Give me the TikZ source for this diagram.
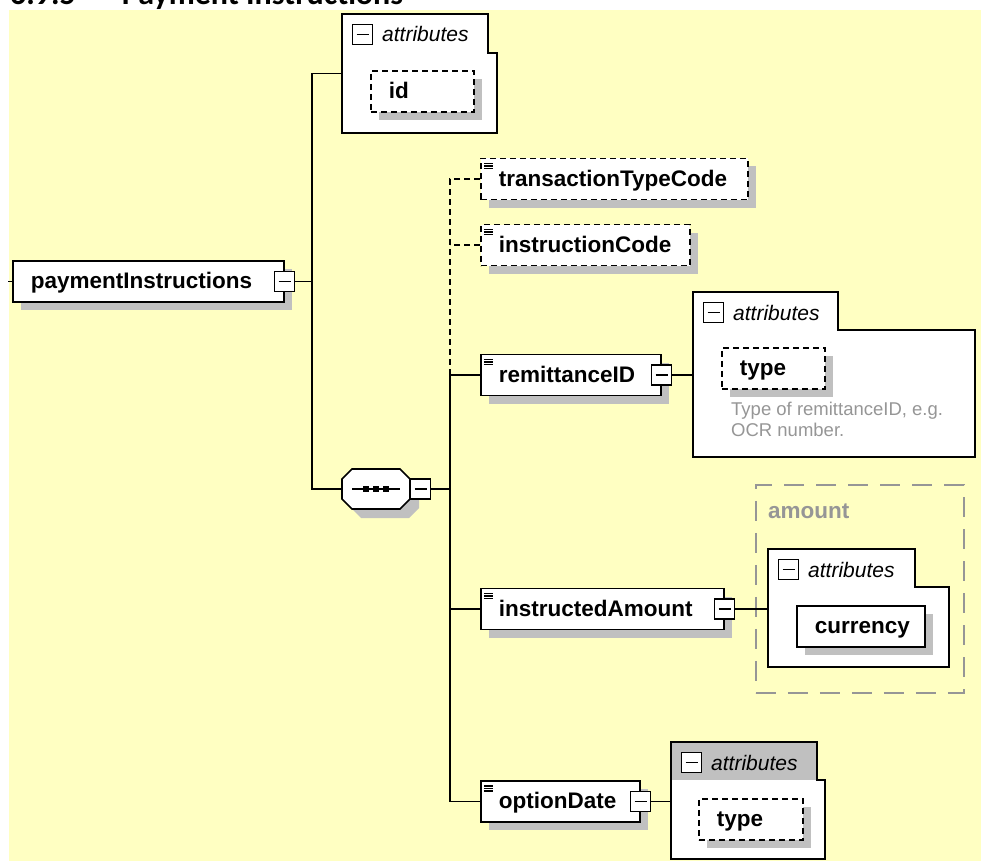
\documentclass[tikz,border=0pt]{standalone}
\usepackage{fontspec}
\setmainfont{Liberation Sans}
\newfontfamily\headfont{Carlito}
\usetikzlibrary{positioning,shapes.misc,shadows,calc}
\definecolor{bgyellow}{RGB}{255,255,194}
\definecolor{shadowgray}{RGB}{192,192,192}
\definecolor{note}{RGB}{150,150,150}
\definecolor{grpline}{RGB}{150,150,150}
\tikzset{
  conn/.style={line width=1.6pt},
  optconn/.style={line width=1.6pt, dash pattern=on 6pt off 4pt},
  sh/.style={drop shadow={shadow xshift=#1, shadow yshift=-#1, opacity=1, fill=shadowgray}},
  elem/.style={draw, rectangle, line width=1.6pt, fill=white, align=left, anchor=west,
    minimum height=41pt, inner xsep=18pt, inner ysep=0pt, text height=17pt, text depth=3pt,
    text width=#1, font=\fontsize{22.5}{27}\selectfont\bfseries, sh=8pt},
  opt/.style={dash pattern=on 6pt off 4pt},
  simple/.style={path picture={
    \foreach \dy in {5,7.5,10}
      \draw[solid, black, line width=1.1pt] ([shift={(3pt,-\dy pt)}]path picture bounding box.north west) -- ++(9pt,0pt);}},
  minus/.style={draw, solid, line width=1.4pt, fill=white, minimum size=20pt, inner sep=0pt,
    path picture={\draw[solid, black, line width=1.4pt] ([xshift=4pt]path picture bounding box.west) -- ([xshift=-4pt]path picture bounding box.east);}},
  seqbox/.style={rectangle, minimum width=68pt, minimum height=40pt, inner sep=0pt, outer sep=0pt},
  octo/.style={draw, line width=1.6pt, fill=white, sh=9pt},
  attrbox/.style 2 args={rectangle, minimum width=#1, minimum height=#2, inner sep=0pt, outer sep=0pt, anchor=north west},
  frame/.style={draw, line width=1.6pt, fill=white},
  hdr/.style={anchor=base west, inner sep=0pt, font=\fontsize{21}{25}\selectfont\itshape},
  desc/.style={anchor=north west, inner sep=0pt, align=left, text=note, font=\fontsize{18.5}{21}\selectfont},
  grp/.style={draw=grpline, line width=1.5pt, dash pattern=on 20pt off 12pt, inner sep=0pt, anchor=north west},
  grplbl/.style={anchor=base west, inner sep=0pt, text=grpline, font=\fontsize{22.5}{27}\selectfont\bfseries},
  title/.style={anchor=base west, inner sep=0pt, font=\headfont\fontsize{32}{38}\selectfont\bfseries},
}
% outline of an attribute container with its tab
\newcommand{\attrframe}[3]{\draw[frame] (#1.north west) -- ++(#2,0) -- ++(0,#3) -| (#1.south east) -- (#1.south west) -- cycle;}

\begin{document}
\begin{tikzpicture}[x=1pt,y=-1pt]
\useasboundingbox (0,0) rectangle (981,861);
\clip (0,0) rectangle (981,861);
\fill[bgyellow] (9,10) rectangle (981,861);
\node[title] (title) at (10,5) {6.9.5\hspace{46pt}Payment Instructions};

% root element
\node[elem=235pt] (pay) at (12,281.5) {paymentInstructions};
\node[minus] (paym) at (pay.east) {};

% attributes of the root
\node[attrbox={155pt}{119pt}] (attr1) at (342,14) {};
\attrframe{attr1}{146}{39}
\node[minus, anchor=north west] (attr1m) at ([shift={(10,10)}]attr1.north west) {};
\node[hdr] (attr1t) at ([shift={(40,28)}]attr1.north west) {attributes};
\node[elem=67pt, opt, anchor=north west] (id) at ([shift={(28,56)}]attr1.north west) {id};

% sequence
\node[seqbox] (seq) at (376,489) {};
\draw[octo] ($(seq.north west)+(10,0)$) -- ($(seq.north east)+(-10,0)$) -- ($(seq.north east)+(0,10)$)
  -- ($(seq.south east)+(0,-10)$) -- ($(seq.south east)+(-10,0)$) -- ($(seq.south west)+(10,0)$)
  -- ($(seq.south west)+(0,-10)$) -- ($(seq.north west)+(0,10)$) -- cycle;
\draw[line width=1.4pt] ([xshift=-24pt]seq.center) -- ([xshift=24pt]seq.center);
\foreach \dx in {-10,0,10}
  \fill[black] ([xshift=\dx pt]seq.center) +(-2.8,-2.8) rectangle +(2.8,2.8);
\node[minus, anchor=west] (seqm) at (seq.east) {};

% children
\node[elem=231pt, opt, simple] (ttc) at (480,179) {transactionTypeCode};
\node[elem=173pt, opt, simple] (ic) at (480,245) {instructionCode};
\node[elem=144pt, simple] (rem) at (480,375) {remittanceID};
\node[minus] (remm) at (rem.east) {};
\node[elem=207pt, simple] (ia) at (480,609) {instructedAmount};
\node[minus] (iam) at (ia.east) {};
\node[elem=123pt, simple] (od) at (480,801.5) {optionDate};
\node[minus] (odm) at (od.east) {};

% remittanceID attributes
\node[attrbox={282pt}{165pt}] (attr2) at (693,292) {};
\attrframe{attr2}{145}{38}
\node[minus, anchor=north west] (attr2m) at ([shift={(10,10)}]attr2.north west) {};
\node[hdr] (attr2t) at ([shift={(40,28)}]attr2.north west) {attributes};
\node[elem=67pt, opt, anchor=north west] (type1) at ([shift={(28,55)}]attr2.north west) {type};
\node[desc] (type1d) at ([shift={(38,110)}]attr2.north west) {Type of remittanceID, e.g.\\OCR number.};

% amount type
\node[grp, minimum width=208pt, minimum height=208pt] (amt) at (755,484) {};
\node[grplbl] (amtl) at ([shift={(13,34)}]amt.north west) {amount};
\node[attrbox={181pt}{118pt}] (attr3) at (768,549) {};
\attrframe{attr3}{147}{38}
\node[minus, anchor=north west] (attr3m) at ([shift={(10,10)}]attr3.north west) {};
\node[hdr] (attr3t) at ([shift={(40,28)}]attr3.north west) {attributes};
\node[elem=92pt, anchor=north west] (cur) at ([shift={(28,56)}]attr3.north west) {currency};

% optionDate attributes
\node[attrbox={154pt}{117pt}] (attr4) at (671,742) {};
\attrframe{attr4}{146}{38}
\fill[shadowgray] ([shift={(0.8,0.8)}]attr4.north west) rectangle ++(144.4,37.2);
\node[minus, anchor=north west] (attr4m) at ([shift={(10,10)}]attr4.north west) {};
\node[hdr] (attr4t) at ([shift={(40,28)}]attr4.north west) {attributes};
\node[elem=68pt, opt, anchor=north west] (type2) at ([shift={(27,56)}]attr4.north west) {type};

% connectors
\coordinate (root) at (8,281.5);
\coordinate (fork1) at (312,281.5);
\coordinate (fork2) at (450,489);
\draw[conn] (root) -- (pay.west);
\draw[conn] (paym.east) -- (fork1);
\draw[conn] (attr1.west) -| (fork1) |- (seq.west);
\draw[conn] (seqm.east) -- (fork2);
\draw[optconn] (ttc.west) -| (fork2 |- rem.west);
\draw[optconn] (ic.west) -- (ic.west -| fork2);
\draw[conn] (rem.west) -| (fork2) |- (od.west);
\draw[conn] (ia.west) -- (ia.west -| fork2);
\draw[conn] (remm.east) -- (remm.east -| attr2.west);
\draw[conn] (iam.east) -- (iam.east -| attr3.west);
\draw[conn] (odm.east) -- (odm.east -| attr4.west);
\end{tikzpicture}
\end{document}
